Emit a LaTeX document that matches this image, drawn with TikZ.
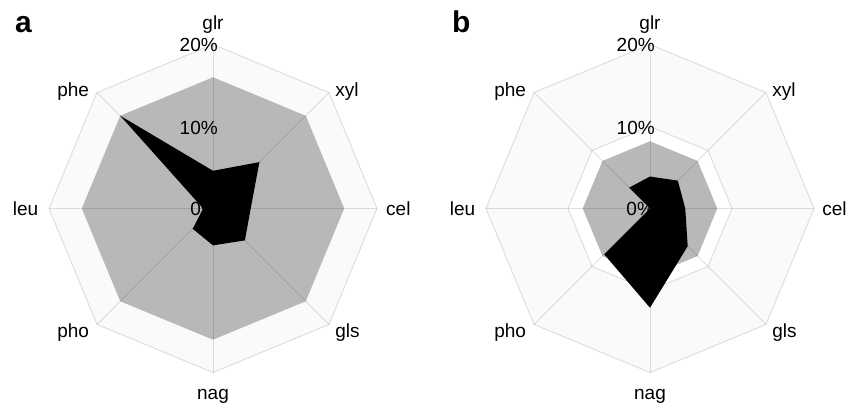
\documentclass[tikz,border=0pt]{standalone}
\usepackage{fontspec}
\setmainfont{Liberation Sans}
\usepackage{tikz}
\definecolor{radarGray}{HTML}{B8B8B8}
\definecolor{gridGray}{HTML}{D9D9D9}
\definecolor{ringFill}{HTML}{FAFAFA}

\begin{document}
\begin{tikzpicture}[x=1pt,y=1pt,
    grid/.style={draw=gridGray,line width=0.8pt},
    spoke/.style={draw=black,draw opacity=0.12,line width=0.8pt},
    axislabel/.style={inner sep=0pt,font=\fontsize{19}{21}\selectfont},
    panel/.style={inner sep=0pt,anchor=base west,font=\fontsize{30}{32}\selectfont\bfseries}]
  \useasboundingbox (0,0) rectangle (848,410);

  %% panel a
  \node[panel] (pa) at (15,377) {a};
  \begin{scope}[shift={(213,201.5)},x=8.2pt,y=8.2pt]
    % grid
    \filldraw[grid,fill=ringFill] (0:20) -- (45:20) -- (90:20) -- (135:20) -- (180:20)
      -- (225:20) -- (270:20) -- (315:20) -- cycle;
    \draw[grid] (0:10) -- (45:10) -- (90:10) -- (135:10) -- (180:10)
      -- (225:10) -- (270:10) -- (315:10) -- cycle;
    % total
    \fill[radarGray] (0:16) -- (45:16) -- (90:16) -- (135:16) -- (180:16)
      -- (225:16) -- (270:16) -- (315:16) -- cycle;
    \draw[spoke] (0:20) -- (180:20);
    \draw[spoke] (45:20) -- (225:20);
    \draw[spoke] (90:20) -- (270:20);
    \draw[spoke] (135:20) -- (315:20);
    \node[axislabel,anchor=base east] (a20) at (0.6,19.1) {20\%};
    \node[axislabel,anchor=base east] (a10) at (0.6,9.0) {10\%};
    \node[axislabel,anchor=base east] (a0) at (0.6,-0.8) {0\%};
    % fraction
    \fill[black] (0:4.6) -- (45:8) -- (90:4.6) -- (135:16) -- (180:1.2)
      -- (225:3.5) -- (270:4.5) -- (315:5.5) -- cycle;
    % enzymes
    \node[axislabel,anchor=base] (a-glr) at (90:21.85) {glr};
    \node[axislabel,anchor=base west] (a-xyl) at (14.9,13.6) {xyl};
    \node[axislabel,anchor=west] (a-cel) at (21.1,0) {cel};
    \node[axislabel,anchor=base west] (a-gls) at (14.9,-15.75) {gls};
    \node[axislabel,anchor=base] (a-nag) at (270:23.35) {nag};
    \node[axislabel,anchor=base east] (a-pho) at (-15.1,-15.75) {pho};
    \node[axislabel,anchor=east] (a-leu) at (-21.3,0) {leu};
    \node[axislabel,anchor=base east] (a-phe) at (-15.1,13.6) {phe};
  \end{scope}

  %% panel b
  \node[panel] (pb) at (452,377) {b};
  \begin{scope}[shift={(650,201.5)},x=8.2pt,y=8.2pt]
    % grid
    \filldraw[grid,fill=ringFill] (0:20) -- (45:20) -- (90:20) -- (135:20) -- (180:20)
      -- (225:20) -- (270:20) -- (315:20) -- cycle;
    \draw[grid,fill=white] (0:10) -- (45:10) -- (90:10) -- (135:10) -- (180:10)
      -- (225:10) -- (270:10) -- (315:10) -- cycle;
    % total
    \fill[radarGray] (0:8.2) -- (45:8.2) -- (90:8.2) -- (135:8.2) -- (180:8.2)
      -- (225:8.2) -- (270:8.2) -- (315:8.2) -- cycle;
    \draw[spoke] (0:20) -- (180:20);
    \draw[spoke] (45:20) -- (225:20);
    \draw[spoke] (90:20) -- (270:20);
    \draw[spoke] (135:20) -- (315:20);
    \node[axislabel,anchor=base east] (b20) at (0.6,19.1) {20\%};
    \node[axislabel,anchor=base east] (b10) at (0.6,9.0) {10\%};
    \node[axislabel,anchor=base east] (b0) at (0.5,-0.8) {0\%};
    % fraction
    \fill[black] (0:4.3) -- (45:4.8) -- (90:3.9) -- (135:3.6) -- (0,0)
      -- (225:7.9) -- (270:12.1) -- (315:6.5) -- cycle;
    % enzymes
    \node[axislabel,anchor=base] (b-glr) at (90:21.85) {glr};
    \node[axislabel,anchor=base west] (b-xyl) at (14.9,13.6) {xyl};
    \node[axislabel,anchor=west] (b-cel) at (21.0,0) {cel};
    \node[axislabel,anchor=base west] (b-gls) at (14.9,-15.75) {gls};
    \node[axislabel,anchor=base] (b-nag) at (270:23.35) {nag};
    \node[axislabel,anchor=base east] (b-pho) at (-15.1,-15.75) {pho};
    \node[axislabel,anchor=east] (b-leu) at (-21.3,0) {leu};
    \node[axislabel,anchor=base east] (b-phe) at (-15.1,13.6) {phe};
  \end{scope}
\end{tikzpicture}
\end{document}
